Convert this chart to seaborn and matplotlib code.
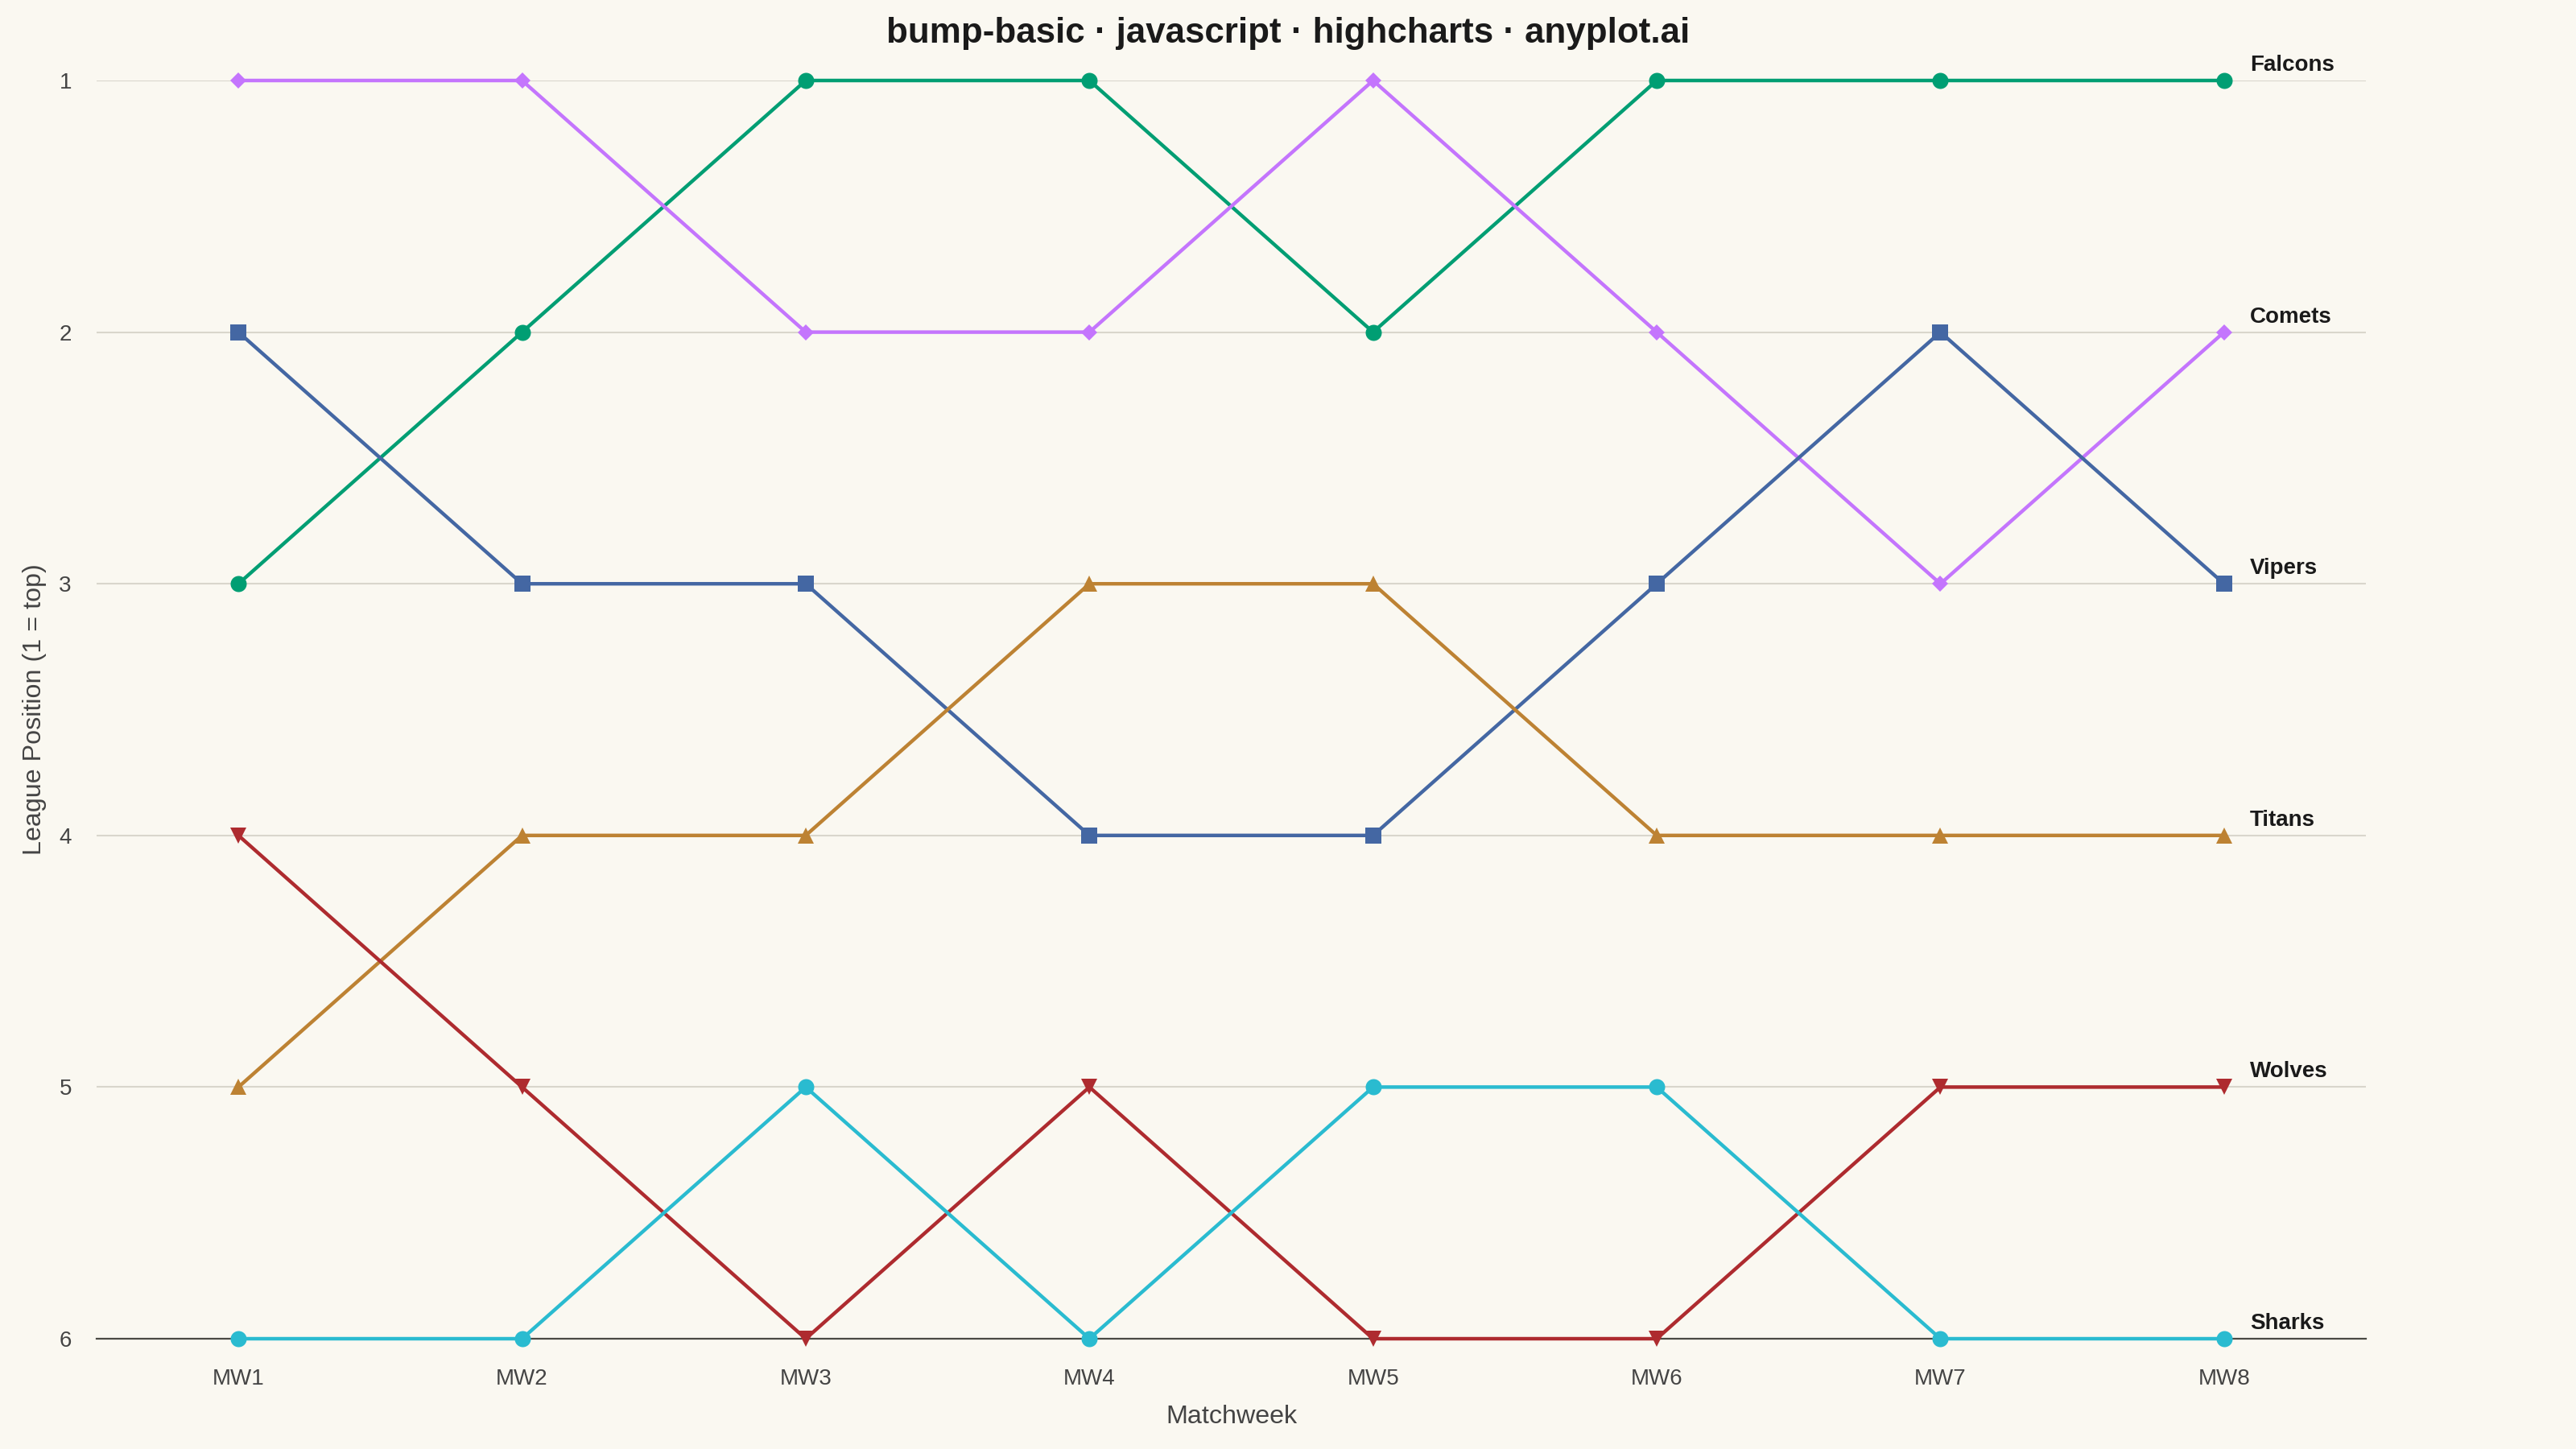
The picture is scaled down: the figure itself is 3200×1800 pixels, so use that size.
import matplotlib
matplotlib.use("Agg")
import matplotlib.pyplot as plt
import seaborn as sns
import pandas as pd

# ---- data ----
matchweeks = ["MW1", "MW2", "MW3", "MW4", "MW5", "MW6", "MW7", "MW8"]
teams = ["Falcons", "Comets", "Vipers", "Titans", "Wolves", "Sharks"]
falcons = [3, 2, 1, 1, 2, 1, 1, 1]
comets = [1, 1, 2, 2, 1, 2, 3, 2]
vipers = [2, 3, 3, 4, 4, 3, 2, 3]
titans = [5, 4, 4, 3, 3, 4, 4, 4]
wolves = [4, 5, 6, 5, 6, 6, 5, 5]
sharks = [6, 6, 5, 6, 5, 5, 6, 6]
positions = [falcons, comets, vipers, titans, wolves, sharks]
y_ticks = [1, 2, 3, 4, 5, 6]

# ---- styles ----
colors = ["#009E73", "#C475FD", "#4467A3", "#BD8233", "#AE2B2F", "#2ABBD0"]
markers = ["o", "D", "s", "^", "v", "o"]
msizes = [7.2, 5.3, 7.0, 7.4, 7.4, 7.2]
BG = "#FAF8F1"
TXT = "#444444"

rows = []
for t, vals in zip(teams, positions):
    for i, (mw, v) in enumerate(zip(matchweeks, vals)):
        rows.append({"team": t, "mw": mw, "idx": i, "pos": v})
df = pd.DataFrame(rows)

sns.set_theme(style="white")
plt.rcParams["font.family"] = ["Liberation Sans", "DejaVu Sans"]

fig = plt.figure(figsize=(16, 9), dpi=200, facecolor=BG)
ax = fig.add_axes([120 / 3200, 1 - 1663 / 1800, 2819 / 3200, 1563 / 1800])
ax.set_facecolor(BG)

for t, c, m, ms in zip(teams, colors, markers, msizes):
    sub = df[df["team"] == t]
    sns.lineplot(data=sub, x="idx", y="pos", ax=ax, color=c, marker=m,
                 markersize=ms, markeredgewidth=0, linewidth=1.6,
                 legend=False, zorder=3, clip_on=False)
    last = sub.iloc[-1]
    ax.annotate(t, xy=(last["idx"], last["pos"]), xytext=(11.5, 4.3),
                textcoords="offset points", ha="left", va="baseline",
                fontsize=10, fontweight="bold", color="#1a1a1a",
                annotation_clip=False)

ax.set_xlim(-0.5, len(matchweeks) - 0.5)
ax.set_ylim(6, 1)
ax.set_xticks(range(len(matchweeks)))
ax.set_xticklabels(matchweeks)
ax.set_yticks(y_ticks)
ax.set_yticklabels([str(v) for v in y_ticks])
ax.tick_params(axis="x", length=0, pad=13.2, labelsize=10, labelcolor=TXT)
ax.tick_params(axis="y", length=0, pad=11.2, labelsize=10, labelcolor=TXT)

for v in y_ticks[:-1]:
    ax.axhline(v, color="#D9D6CC", linewidth=0.75, zorder=1)
for s in ["top", "right", "left"]:
    ax.spines[s].set_visible(False)
ax.spines["bottom"].set_color("#4A4A44")
ax.spines["bottom"].set_linewidth(0.8)
ax.spines["bottom"].set_zorder(2)

ax.set_xlabel("Matchweek", fontsize=11.6, color=TXT, va="baseline")
ax.xaxis.set_label_coords(0.5, -(1768 - 1663) / 1563)
ax.set_ylabel("League Position (1 = top)", fontsize=11.6, color=TXT, va="center")
ax.yaxis.set_label_coords((43 - 120) / 2819, 0.5)

fig.text(0.5, 1 - 42 / 1800, "bump-basic · javascript · highcharts · anyplot.ai",
         ha="center", va="center", fontsize=15.8, fontweight="bold", color="#1a1a1a")

fig.savefig("out.png", dpi=200, facecolor=BG)
